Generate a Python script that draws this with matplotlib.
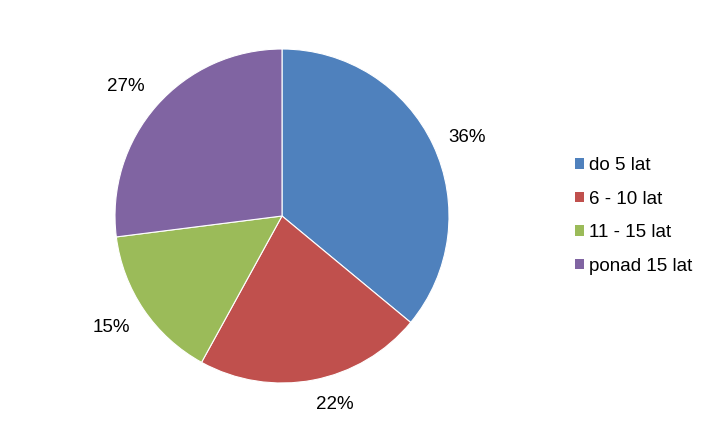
import numpy as np
import matplotlib.pyplot as plt
from matplotlib.patches import Patch

plt.rcParams['font.family'] = ['Liberation Sans', 'DejaVu Sans']

kategorie = ['do 5 lat', '6 - 10 lat', '11 - 15 lat', 'ponad 15 lat']
udzialy = [36, 22, 15, 27]
kolory = ['#4F81BD', '#C0504D', '#9BBB59', '#8064A2']

fig = plt.figure(figsize=(7.13, 4.33), dpi=100)
ax = fig.add_axes([(282 - 167) / 713, (433 - 216 - 167) / 433, 334 / 713, 334 / 433])

wedges, teksty = ax.pie(udzialy, colors=kolory, startangle=90, counterclock=False,
                        wedgeprops=dict(edgecolor='white', linewidth=0.8))
# etykiety procentowe poza wycinkami (jak w Excelu - krawedz etykiety przy kole)
for w, v in zip(wedges, udzialy):
    kat = np.deg2rad((w.theta1 + w.theta2) / 2)
    c, s = np.cos(kat), np.sin(kat)
    ha = 'left' if c > 0 else 'right'
    if s < -0.5:
        va = 'top'
    elif s > 0.5:
        va = 'bottom'
    else:
        va = 'center'
    ax.text(1.1 * c, 1.1 * s, f'{v}%', ha=ha, va=va, fontsize=13.5, color='#000000')
ax.set_xlim(-1, 1)
ax.set_ylim(-1, 1)
ax.set_aspect('equal')

uchwyty = [Patch(facecolor=c, edgecolor='none') for c in kolory]
fig.legend(uchwyty, kategorie, loc='center left', bbox_to_anchor=(558 / 713, 1 - 216 / 433),
           frameon=False, fontsize=13.5, handlelength=0.48, handleheight=0.48,
           handletextpad=0.27, labelspacing=0.88)

fig.savefig('out.png', dpi=100)
